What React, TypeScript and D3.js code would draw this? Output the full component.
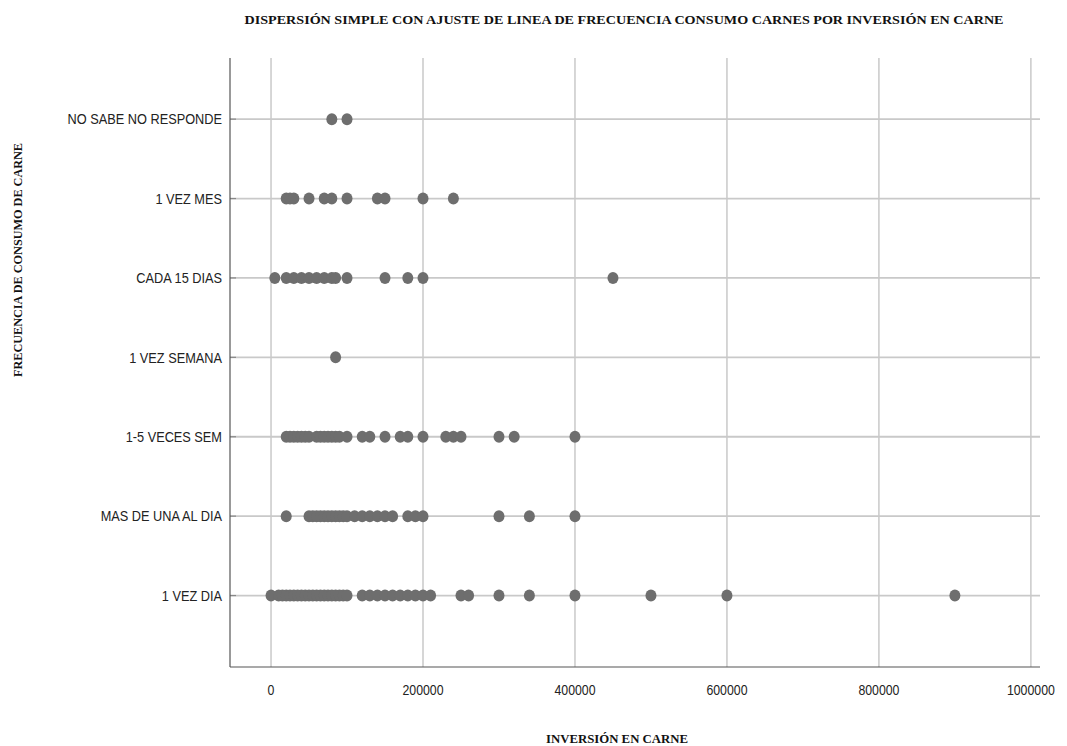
import React from "react";
import * as d3 from "d3";

const categories = [
  "1 VEZ DIA",
  "MAS DE UNA AL DIA",
  "1-5 VECES SEM",
  "1 VEZ SEMANA",
  "CADA 15 DIAS",
  "1 VEZ MES",
  "NO SABE NO RESPONDE",
];

const unaVezDia = [0, 10000, 15000, 20000, 25000, 30000, 35000, 40000, 45000, 50000, 55000, 60000, 65000, 70000, 75000, 80000, 85000, 90000, 95000, 100000, 120000, 130000, 140000, 150000, 160000, 170000, 180000, 190000, 200000, 210000, 250000, 260000, 300000, 340000, 400000, 500000, 600000, 900000];
const masDeUnaAlDia = [20000, 50000, 55000, 60000, 65000, 70000, 75000, 80000, 85000, 90000, 95000, 100000, 110000, 120000, 130000, 140000, 150000, 160000, 180000, 190000, 200000, 300000, 340000, 400000];
const unoCincoVecesSem = [20000, 25000, 30000, 35000, 40000, 45000, 50000, 60000, 65000, 70000, 75000, 80000, 85000, 90000, 100000, 120000, 130000, 150000, 170000, 180000, 200000, 230000, 240000, 250000, 300000, 320000, 400000];
const unaVezSemana = [85000];
const cada15Dias = [5000, 20000, 30000, 40000, 50000, 60000, 70000, 80000, 85000, 100000, 150000, 180000, 200000, 450000];
const unaVezMes = [20000, 25000, 30000, 50000, 70000, 80000, 100000, 140000, 150000, 200000, 240000];
const noSabe = [80000, 100000];

const seriesValues = [unaVezDia, masDeUnaAlDia, unoCincoVecesSem, unaVezSemana, cada15Dias, unaVezMes, noSabe];

const xTicks = [0, 200000, 400000, 600000, 800000, 1000000];

const title = "DISPERSIÓN SIMPLE CON AJUSTE DE LINEA DE FRECUENCIA CONSUMO CARNES POR INVERSIÓN  EN CARNE";
const xTitle = "INVERSIÓN EN CARNE";
const yTitle = "FRECUENCIA DE CONSUMO DE CARNE";

export default function App() {
  const W = 1067, H = 746;
  const left = 230, right = 1040, top = 58, bottom = 667;
  const x = d3.scaleLinear().domain([-54000, 1012000]).range([left, right]);
  const y = d3.scaleLinear().domain([-0.9, 6.77]).range([bottom, top]);
  const grid = "#c9c9c9";
  const sans = "'Liberation Sans', Arial, sans-serif";
  const serif = "'Liberation Serif', 'Times New Roman', serif";

  const points: { v: number; i: number }[] = [];
  seriesValues.forEach((arr, i) => arr.forEach((v) => points.push({ v, i })));

  return (
    <svg width={W} height={H} style={{ position: "absolute", left: 0, top: 0, background: "#fff" }}>
      <rect x={0} y={0} width={W} height={H} fill="#fff" />
      {xTicks.map((t) => (
        <line key={"vg" + t} x1={x(t)} x2={x(t)} y1={top} y2={bottom} stroke={grid} strokeWidth={1.5} />
      ))}
      {categories.map((c, i) => (
        <line key={"hg" + c} x1={left} x2={right} y1={y(i)} y2={y(i)} stroke={grid} strokeWidth={1.8} />
      ))}
      {categories.map((c, i) => (
        <line key={"yt" + c} x1={left} x2={left + 6} y1={y(i)} y2={y(i)} stroke="#888" strokeWidth={1.2} />
      ))}
      <line x1={left} x2={left} y1={top} y2={bottom} stroke="#555" strokeWidth={1.2} />
      <line x1={left} x2={right} y1={bottom} y2={bottom} stroke="#555" strokeWidth={1.2} />
      {points.map((p, k) => (
        <ellipse key={k} cx={x(p.v)} cy={y(p.i)} rx={5.5} ry={6} fill="#6e6e6e" />
      ))}
      {categories.map((c, i) => (
        <g key={"yl" + c} transform={`translate(222,${y(i)}) scale(0.88,1)`}>
          <text x={0} y={0} dy="0.36em" textAnchor="end" fontFamily={sans} fontSize={14.5} fill="#222">
            {c}
          </text>
        </g>
      ))}
      {xTicks.map((t) => (
        <g key={"xl" + t} transform={`translate(${x(t)},690) scale(0.85,1)`}>
          <text x={0} y={0} dy="0.36em" textAnchor="middle" fontFamily={sans} fontSize={14.5} fill="#222">
            {String(t)}
          </text>
        </g>
      ))}
      <text x={624} y={19} dy="0.35em" textAnchor="middle" fontFamily={serif} fontWeight="bold" fontSize={13} fill="#111" textLength={759} lengthAdjust="spacingAndGlyphs">
        {title}
      </text>
      <text x={617} y={738} dy="0.35em" textAnchor="middle" fontFamily={serif} fontWeight="bold" fontSize={13} fill="#111" textLength={142} lengthAdjust="spacingAndGlyphs">
        {xTitle}
      </text>
      <text transform={`translate(18,260) rotate(-90)`} dy="0.35em" textAnchor="middle" fontFamily={serif} fontWeight="bold" fontSize={12.5} fill="#111" textLength={234} lengthAdjust="spacingAndGlyphs">
        {yTitle}
      </text>
    </svg>
  );
}
